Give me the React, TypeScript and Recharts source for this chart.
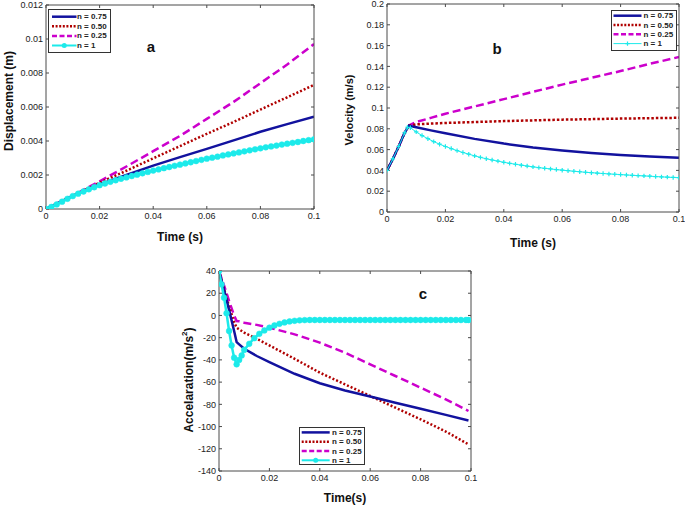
import React from 'react';
import { LineChart, Line, XAxis, YAxis } from 'recharts';

const BLUE = '#12129e';
const RED = '#b00000';
const MAG = '#cc00cc';
const CYAN = '#1ceaea';
const AXIS = '#4a4a4a';
const FONT = '"Liberation Sans", Arial, Helvetica, sans-serif';

const legendLabels = ['n = 0.75', 'n = 0.50', 'n = 0.25', 'n = 1'];
const xTicks = [0, 0.02, 0.04, 0.06, 0.08, 0.1];
const aYTicks = [0, 0.002, 0.004, 0.006, 0.008, 0.01, 0.012];
const bYTicks = [0, 0.02, 0.04, 0.06, 0.08, 0.1, 0.12, 0.14, 0.16, 0.18, 0.2];
const cYTicks = [-140, -120, -100, -80, -60, -40, -20, 0, 20, 40];

// ---- Panel a : displacement ----
const aTime = [0, 0.01, 0.02, 0.03, 0.04, 0.05, 0.06, 0.07, 0.08, 0.09, 0.1];
const aDispN075 = [0, 0.00077, 0.00145, 0.002, 0.00255, 0.00305, 0.00354, 0.00404, 0.00454, 0.00499, 0.00543];
const aDispN050 = [0, 0.00078, 0.00155, 0.00225, 0.00298, 0.0037, 0.00442, 0.00512, 0.00585, 0.00657, 0.0073];
const aDispN025 = [0, 0.00079, 0.00163, 0.0025, 0.0034, 0.0043, 0.0053, 0.0063, 0.0074, 0.0085, 0.0097];
const aTimeFine = [
  0, 0.002, 0.004, 0.006, 0.008, 0.01, 0.012, 0.014, 0.016, 0.018, 0.02,
  0.022, 0.024, 0.026, 0.028, 0.03, 0.032, 0.034, 0.036, 0.038, 0.04,
  0.042, 0.044, 0.046, 0.048, 0.05, 0.052, 0.054, 0.056, 0.058, 0.06,
  0.062, 0.064, 0.066, 0.068, 0.07, 0.072, 0.074, 0.076, 0.078, 0.08,
  0.082, 0.084, 0.086, 0.088, 0.09, 0.092, 0.094, 0.096, 0.098, 0.1,
];
const aDispN1 = [
  0, 0.00012, 0.00027, 0.00043, 0.0006, 0.00076, 0.0009, 0.00103, 0.00116, 0.00128, 0.0014,
  0.0015, 0.0016, 0.00169, 0.00178, 0.00186, 0.00194, 0.00202, 0.0021, 0.00218, 0.00226,
  0.00233, 0.0024, 0.00247, 0.00254, 0.00261, 0.00268, 0.00275, 0.00282, 0.00289, 0.00296,
  0.00302, 0.00308, 0.00315, 0.00321, 0.00327, 0.00333, 0.00339, 0.00345, 0.00351, 0.00357,
  0.00363, 0.00368, 0.00373, 0.00379, 0.00384, 0.00389, 0.00394, 0.004, 0.00405, 0.0041,
];

// ---- Panel b : velocity ----
const bTime = [0, 0.002, 0.004, 0.006, 0.0075, 0.01, 0.015, 0.02, 0.03, 0.04, 0.05, 0.06, 0.07, 0.08, 0.09, 0.1];
const bVelN075 = [0.04, 0.051, 0.063, 0.076, 0.083, 0.0815, 0.0785, 0.0757, 0.0703, 0.0658, 0.062, 0.0591, 0.0567, 0.0548, 0.0533, 0.0522];
const bVelN050 = [0.04, 0.051, 0.063, 0.076, 0.083, 0.0843, 0.085, 0.0856, 0.0865, 0.0874, 0.0881, 0.0888, 0.0893, 0.0898, 0.0902, 0.0906];
const bVelN025 = [0.04, 0.051, 0.063, 0.076, 0.0833, 0.0865, 0.0905, 0.0945, 0.1015, 0.1085, 0.1155, 0.1225, 0.129, 0.1355, 0.1425, 0.149];
const bTimeFine = [
  0, 0.002, 0.004, 0.006, 0.007, 0.008,
  0.01, 0.012, 0.014, 0.016, 0.018, 0.02,
  0.022, 0.024, 0.026, 0.028, 0.03, 0.032, 0.034, 0.036, 0.038, 0.04,
  0.042, 0.044, 0.046, 0.048, 0.05, 0.052, 0.054, 0.056, 0.058, 0.06,
  0.062, 0.064, 0.066, 0.068, 0.07, 0.072, 0.074, 0.076, 0.078, 0.08,
  0.082, 0.084, 0.086, 0.088, 0.09, 0.092, 0.094, 0.096, 0.098, 0.1,
];
const bVelN1 = [
  0.04, 0.051, 0.063, 0.076, 0.0815, 0.081,
  0.077, 0.0735, 0.0705, 0.0677, 0.0652, 0.063,
  0.061, 0.059, 0.0572, 0.0556, 0.054, 0.0525, 0.0512, 0.05, 0.0489, 0.0478,
  0.0468, 0.0459, 0.045, 0.0442, 0.0434, 0.0427, 0.042, 0.0414, 0.0408, 0.0402,
  0.0397, 0.0392, 0.0387, 0.0382, 0.0378, 0.0374, 0.037, 0.0366, 0.0363, 0.036,
  0.0356, 0.0353, 0.035, 0.0347, 0.0344, 0.0341, 0.0338, 0.0335, 0.0332, 0.033,
];

// ---- Panel c : acceleration ----
const cTime = [0, 0.002, 0.004, 0.006, 0.007, 0.008, 0.01, 0.015, 0.02, 0.03, 0.04, 0.05, 0.06, 0.07, 0.08, 0.09, 0.099];
const cAccN075 = [40, 23, 5, -14, -24, -26, -30, -36.5, -42, -52.5, -61, -67.5, -73, -78.5, -84, -89.5, -94.5];
const cAccN050 = [40, 24, 8, -6, -11, -12.5, -15.5, -21, -27, -39, -51.5, -62, -72.5, -83, -93.5, -104.5, -116];
const cAccN025 = [40, 27, 13, 0, -5, -5.3, -6.5, -8.5, -11, -17, -24.5, -33.5, -44, -54.5, -65, -75.5, -86];
const cTimeFine = [
  0, 0.001, 0.002, 0.003, 0.004, 0.005, 0.006, 0.007, 0.008, 0.009, 0.01,
  0.012, 0.014, 0.016, 0.018, 0.02, 0.022, 0.024, 0.026, 0.028, 0.03,
  0.032, 0.034, 0.036, 0.038, 0.04, 0.042, 0.044, 0.046, 0.048, 0.05,
  0.052, 0.054, 0.056, 0.058, 0.06, 0.062, 0.064, 0.066, 0.068, 0.07,
  0.072, 0.074, 0.076, 0.078, 0.08, 0.082, 0.084, 0.086, 0.088, 0.09,
  0.092, 0.094, 0.096, 0.098, 0.099,
];
const cAccN1 = [
  40, 28, 16, 2, -14, -27, -38, -44, -40, -36, -31,
  -25.5, -20.5, -16.5, -13.5, -11, -9, -7.5, -6.3, -5.4, -4.8,
  -4.4, -4.2, -4.1, -4.1, -4.1, -4.1, -4.1, -4.1, -4.1, -4.1,
  -4.1, -4.1, -4.1, -4.1, -4.1, -4.1, -4.1, -4.1, -4.1, -4.1,
  -4.1, -4.1, -4.1, -4.1, -4.1, -4.1, -4.1, -4.1, -4.1, -4.1,
  -4.1, -4.1, -4.1, -4.1, -4.1,
];

const pts = (t: number[], v: number[]) => t.map((tt, i) => ({ t: tt, v: v[i] }));

const fmt = (v: number) => String(v);
const blank = () => '';

const tickStyle = { fontSize: 9, fill: '#222', fontFamily: FONT };

const xTitle = (text: string, y: number) => (props: any) => {
  const vb = props.viewBox || {};
  return (
    <text x={vb.x + vb.width / 2} y={y} textAnchor="middle" fontFamily={FONT} fontWeight="bold" fontSize={12} fill="#111">
      {text}
    </text>
  );
};

const yTitle = (content: React.ReactNode, cx: number, cy: number, size: number) => () => (
  <text
    transform={`translate(${cx},${cy}) rotate(-90)`}
    textAnchor="middle"
    dominantBaseline="central"
    fontFamily={FONT}
    fontWeight="bold"
    fontSize={size}
    fill="#111"
  >
    {content}
  </text>
);

const PlusDot = (props: any) => {
  const { cx, cy, index } = props;
  if (cx == null || cy == null) return <g key={`p-${index}`} />;
  const s = 2.2;
  return (
    <path
      key={`p-${index}`}
      d={`M${cx - s},${cy}H${cx + s}M${cx},${cy - s}V${cy + s}`}
      stroke={CYAN}
      strokeWidth={1.2}
      fill="none"
    />
  );
};

type LegendProps = {
  left: number; top: number; width: number; height: number;
  firstRow: number; rowGap: number; sampleX: number; sampleW: number; textX: number;
  plus?: boolean;
};

function LegendBox(p: LegendProps) {
  const styles = [
    { c: BLUE, dash: undefined as string | undefined, w: 2.5 },
    { c: RED, dash: '2 1.6', w: 2.5 },
    { c: MAG, dash: '5 2.5', w: 2.5 },
    { c: CYAN, dash: undefined as string | undefined, w: p.plus ? 1 : 2 },
  ];
  return (
    <svg width={p.width} height={p.height} style={{ position: 'absolute', left: p.left, top: p.top }}>
      <rect x={0.5} y={0.5} width={p.width - 1} height={p.height - 1} fill="#fff" stroke="#333" strokeWidth={1} />
      {legendLabels.map((lab, i) => {
        const y = p.firstRow + i * p.rowGap;
        const s = styles[i];
        const mid = p.sampleX + p.sampleW / 2;
        return (
          <g key={lab}>
            <line x1={p.sampleX} x2={p.sampleX + p.sampleW} y1={y} y2={y} stroke={s.c} strokeWidth={s.w} strokeDasharray={s.dash} />
            {i === 3 && !p.plus && <circle cx={mid} cy={y} r={2.5} fill={CYAN} />}
            {i === 3 && p.plus && (
              <path d={`M${mid - 2.2},${y}H${mid + 2.2}M${mid},${y - 2.2}V${y + 2.2}`} stroke={CYAN} strokeWidth={1.2} />
            )}
            <text x={p.textX} y={y} dominantBaseline="central" fontFamily={FONT} fontWeight="bold" fontSize={8} fill="#222">
              {lab}
            </text>
          </g>
        );
      })}
    </svg>
  );
}

function PanelTag({ x, y, text }: { x: number; y: number; text: string }) {
  return (
    <svg width={20} height={20} style={{ position: 'absolute', left: x - 10, top: y - 10 }}>
      <text x={10} y={10} textAnchor="middle" dominantBaseline="central" fontFamily={FONT} fontWeight="bold" fontSize={15} fill="#111">
        {text}
      </text>
    </svg>
  );
}

export default function App() {
  return (
    <div style={{ position: 'absolute', left: 0, top: 0, width: 685, height: 505, background: '#fff', overflow: 'hidden' }}>
      {/* Panel a */}
      <div style={{ position: 'absolute', left: 0, top: 0 }}>
        <LineChart width={340} height={250} margin={{ top: 2, right: 23, bottom: 0, left: 0 }}>
          <XAxis
            dataKey="t" type="number" domain={[0, 0.1]} ticks={xTicks} allowDataOverflow interval={0}
            height={41} stroke={AXIS} tickSize={-3} tickMargin={7} tick={tickStyle} tickFormatter={fmt}
            label={xTitle('Time (s)', 241)}
          />
          <XAxis xAxisId="top" orientation="top" dataKey="t" type="number" domain={[0, 0.1]} ticks={xTicks} allowDataOverflow interval={0}
            height={3} stroke={AXIS} tickSize={-3} tick={tickStyle} tickFormatter={blank} />
          <YAxis
            type="number" domain={[0, 0.012]} ticks={aYTicks} allowDataOverflow interval={0}
            width={46} stroke={AXIS} tickSize={-3} tickMargin={6} tick={tickStyle} tickFormatter={fmt}
            label={yTitle('Displacement (m)', 9, 101, 12)}
          />
          <YAxis yAxisId="right" orientation="right" type="number" domain={[0, 0.012]} ticks={aYTicks} allowDataOverflow interval={0}
            width={3} stroke={AXIS} tickSize={-3} tick={tickStyle} tickFormatter={blank} />
          <Line data={pts(aTime, aDispN025)} xAxisId="top" yAxisId="right" dataKey="v" stroke={MAG} strokeWidth={2.5} strokeDasharray="8 4" dot={false} isAnimationActive={false} />
          <Line data={pts(aTime, aDispN050)} dataKey="v" stroke={RED} strokeWidth={2.5} strokeDasharray="2 2" dot={false} isAnimationActive={false} />
          <Line data={pts(aTime, aDispN075)} dataKey="v" stroke={BLUE} strokeWidth={2.5} dot={false} isAnimationActive={false} />
          <Line data={pts(aTimeFine, aDispN1)} dataKey="v" stroke={CYAN} strokeWidth={2.5}
            dot={{ r: 2.9, fill: CYAN, stroke: CYAN, strokeWidth: 0.5 }} isAnimationActive={false} />
        </LineChart>
      </div>

      {/* Panel b */}
      <div style={{ position: 'absolute', left: 340, top: 0 }}>
        <LineChart width={345} height={250} margin={{ top: 1, right: 3, bottom: 0, left: 0 }}>
          <XAxis
            dataKey="t" type="number" domain={[0, 0.1]} ticks={xTicks} allowDataOverflow interval={0}
            height={38} stroke={AXIS} tickSize={-3} tickMargin={7} tick={tickStyle} tickFormatter={fmt}
            label={xTitle('Time (s)', 247)}
          />
          <XAxis xAxisId="top" orientation="top" dataKey="t" type="number" domain={[0, 0.1]} ticks={xTicks} allowDataOverflow interval={0}
            height={3} stroke={AXIS} tickSize={-3} tick={tickStyle} tickFormatter={blank} />
          <YAxis
            type="number" domain={[0, 0.2]} ticks={bYTicks} allowDataOverflow interval={0}
            width={47} stroke={AXIS} tickSize={-3} tickMargin={6} tick={tickStyle} tickFormatter={fmt}
            label={yTitle('Velocity (m/s)', 9, 110, 11)}
          />
          <YAxis yAxisId="right" orientation="right" type="number" domain={[0, 0.2]} ticks={bYTicks} allowDataOverflow interval={0}
            width={3} stroke={AXIS} tickSize={-3} tick={tickStyle} tickFormatter={blank} />
          <Line data={pts(bTime, bVelN025)} xAxisId="top" yAxisId="right" dataKey="v" stroke={MAG} strokeWidth={2.5} strokeDasharray="8 4" dot={false} isAnimationActive={false} />
          <Line data={pts(bTime, bVelN050)} dataKey="v" stroke={RED} strokeWidth={2.5} strokeDasharray="2.5 2" dot={false} isAnimationActive={false} />
          <Line data={pts(bTime, bVelN075)} dataKey="v" stroke={BLUE} strokeWidth={2.5} dot={false} isAnimationActive={false} />
          <Line data={pts(bTimeFine, bVelN1)} dataKey="v" stroke={CYAN} strokeWidth={1} dot={PlusDot} isAnimationActive={false} />
        </LineChart>
      </div>

      {/* Panel c */}
      <div style={{ position: 'absolute', left: 170, top: 258 }}>
        <LineChart width={330} height={247} margin={{ top: 10, right: 26, bottom: 0, left: 0 }}>
          <XAxis
            dataKey="t" type="number" domain={[0, 0.1]} ticks={xTicks} allowDataOverflow interval={0}
            height={34} stroke={AXIS} tickSize={-3} tickMargin={7} tick={tickStyle} tickFormatter={fmt}
            label={xTitle('Time(s)', 244)}
          />
          <XAxis xAxisId="top" orientation="top" dataKey="t" type="number" domain={[0, 0.1]} ticks={xTicks} allowDataOverflow interval={0}
            height={3} stroke={AXIS} tickSize={-3} tick={tickStyle} tickFormatter={blank} />
          <YAxis
            type="number" domain={[-140, 40]} ticks={cYTicks} allowDataOverflow interval={0}
            width={49} stroke={AXIS} tickSize={-3} tickMargin={6} tick={tickStyle} tickFormatter={fmt}
            label={yTitle(
              <>
                <tspan>Accelaration(m/s</tspan>
                <tspan dy={-5} fontSize={8}>2</tspan>
                <tspan dy={5}>)</tspan>
              </>,
              19, 122, 12
            )}
          />
          <YAxis yAxisId="right" orientation="right" type="number" domain={[-140, 40]} ticks={cYTicks} allowDataOverflow interval={0}
            width={3} stroke={AXIS} tickSize={-3} tick={tickStyle} tickFormatter={blank} />
          <Line data={pts(cTime, cAccN025)} xAxisId="top" yAxisId="right" dataKey="v" stroke={MAG} strokeWidth={2.5} strokeDasharray="8 4" dot={false} isAnimationActive={false} />
          <Line data={pts(cTime, cAccN050)} dataKey="v" stroke={RED} strokeWidth={2.5} strokeDasharray="2 2" dot={false} isAnimationActive={false} />
          <Line data={pts(cTime, cAccN075)} dataKey="v" stroke={BLUE} strokeWidth={2.5} dot={false} isAnimationActive={false} />
          <Line data={pts(cTimeFine, cAccN1)} dataKey="v" stroke={CYAN} strokeWidth={2.5}
            dot={{ r: 2.9, fill: CYAN, stroke: CYAN, strokeWidth: 0.5 }} isAnimationActive={false} />
        </LineChart>
      </div>

      <LegendBox left={48} top={9} width={63} height={44} firstRow={7.7} rowGap={9.6} sampleX={4} sampleW={24.5} textX={29} />
      <LegendBox left={611} top={10} width={66} height={41} firstRow={5.7} rowGap={9.3} sampleX={2.5} sampleW={28} textX={32.5} plus />
      <LegendBox left={299} top={427} width={66} height={38} firstRow={5.4} rowGap={9.3} sampleX={2.7} sampleW={28} textX={33} />

      <PanelTag x={151} y={46} text="a" />
      <PanelTag x={497} y={48} text="b" />
      <PanelTag x={423} y={293} text="c" />
    </div>
  );
}
